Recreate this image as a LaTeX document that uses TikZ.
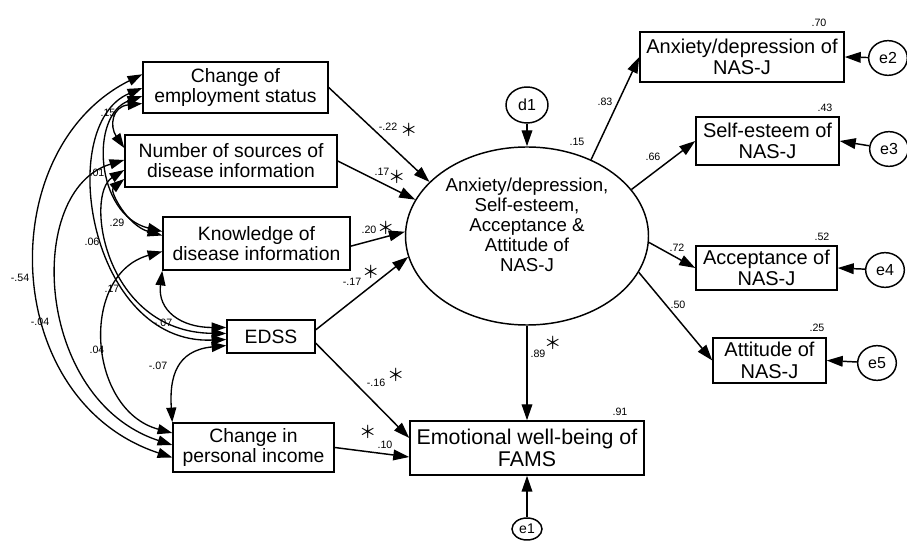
\documentclass[tikz,border=0pt]{standalone}
\usepackage{fontspec}
\setmainfont{Liberation Sans}
\newfontfamily\cjkfont{Noto Sans CJK JP}
\usetikzlibrary{arrows.meta,shapes.geometric,calc}
\begin{document}
\begin{tikzpicture}[x=0.75pt,y=-0.75pt,
  box/.style={draw,line width=1.1pt,inner sep=0pt,align=center,font=\fontsize{14.5}{15}\selectfont},
  rbox/.style={box,font=\fontsize{15}{16}\selectfont},
  circ/.style={draw,ellipse,line width=1.1pt,inner sep=0pt,font=\fontsize{12}{12}\selectfont},
  arr/.style={line width=1.1pt,-{Triangle[length=12pt,width=8pt]}},
  cov/.style={line width=1pt,{Triangle[length=11pt,width=7.5pt]}-{Triangle[length=11pt,width=7.5pt]}},
  coef/.style={inner sep=0pt,font=\fontsize{8}{8}\selectfont},
  sig/.style={inner sep=0pt,font=\cjkfont\fontsize{13}{13}\selectfont}]
\useasboundingbox (0,0) rectangle (907,541);
% exogenous boxes
\node[box,minimum width=138.75pt,minimum height=38.25pt] (A) at (235.5,87.5) {Change of\\employment status};
\node[box,minimum width=159pt,minimum height=39pt] (B) at (231,161) {Number of sources of\\disease information};
\node[box,minimum width=140.25pt,minimum height=39.75pt] (C) at (256.5,243.5) {Knowledge of\\disease information};
\node[box,minimum width=66pt,minimum height=24.75pt] (D) at (271,336.5) {EDSS};
\node[box,minimum width=120.75pt,minimum height=36.75pt] (E) at (253.5,447.5) {Change in\\personal income};
% outcome
\node[box,font=\fontsize{16}{16.5}\selectfont,minimum width=175.5pt,minimum height=40.5pt] (F) at (527,448) {Emotional well-being of\\FAMS};
% latent
\node[draw,ellipse,line width=1.1pt,minimum width=182.25pt,minimum height=133.5pt] (L) at (527,236) {};
\node[align=center,inner sep=0pt,font=\fontsize{14}{15}\selectfont] (Lt) at (527,225) {Anxiety/depression,\\Self-esteem,\\Acceptance \&\\Attitude of\\NAS-J};
% indicators
\node[rbox,minimum width=153pt,minimum height=37.5pt] (R1) at (742,57) {Anxiety/depression of\\NAS-J};
\node[rbox,minimum width=107.25pt,minimum height=36pt] (R2) at (767.5,141) {Self-esteem of\\NAS-J};
\node[rbox,minimum width=105.75pt,minimum height=33pt] (R3) at (766.5,268) {Acceptance of\\NAS-J};
\node[rbox,minimum width=84.75pt,minimum height=33.75pt] (R4) at (769.5,360.5) {Attitude of\\NAS-J};
% error terms
\node[circ,minimum width=31.5pt,minimum height=27pt] (d1) at (527,105) {d1};
\node[circ,minimum width=22.5pt,minimum height=16.5pt,font=\fontsize{10.5}{11}\selectfont] (e1) at (527,529) {e1};
\node[circ,minimum width=29pt,minimum height=26pt] (e2) at (888,58) {e2};
\node[circ,minimum width=29pt,minimum height=26pt] (e3) at (889,149) {e3};
\node[circ,minimum width=29pt,minimum height=26pt] (e4) at (885,270) {e4};
\node[circ,minimum width=29pt,minimum height=26pt] (e5) at (877,363) {e5};
% paths
\draw[arr] (A.east) -- (L.151.7);
\draw[arr] (B.east) -- (L.162);
\draw[arr] ([yshift=-2pt]C.east) -- (L.178.6);
\draw[arr] ([yshift=5pt]D.east) -- (L.190.6);
\draw[arr] ([yshift=-5pt]D.east) -- ([yshift=7.5pt]F.west);
\draw[arr] (E.east) -- ([yshift=-6.75pt]F.west);
\draw[arr] (L.south) -- (F.north);
\draw[arr] (e1) -- (F.south);
\draw[arr] (d1) -- (L.north);
\draw[arr] (L.50) -- (R1.west);
\draw[arr] (L.24.4) -- (R2.west);
\draw[arr] (L.-3.5) -- (R3.west);
\draw[arr] (L.-18) -- (R4.west);
\draw[arr] (e2) -- (R1.east);
\draw[arr] (e3) -- (R2.east);
\draw[arr] (e4) -- (R3.east);
\draw[arr] (e5) -- (R4.east);
% covariances
\draw[cov] ($(A.north west)+(0,13)$) .. controls +(-150,75) and +(-173,-57) .. ($(E.west)+(0,10)$);
\draw[cov] ($(B.west)+(0,-1)$) .. controls +(-100,30) and +(-138,-45) .. ($(E.west)+(0,-2.5)$);
\draw[cov] ($(C.west)+(0,8)$) .. controls +(-83,23) and +(-85,-23) .. ($(E.west)+(0,-14.5)$);
\draw[cov] ($(D.west)+(0,9)$) .. controls +(-50,5) and +(-3,-45) .. (E.north west);
\draw[cov] ($(A.west)+(0,16)$) .. controls +(-30,3) and +(-15,-22) .. ($(B.west)+(0,-13)$);
\draw[cov] ($(A.west)+(0,8.5)$) .. controls +(-53,19) and +(-67,-16.5) .. ($(C.west)+(0,-12)$);
\draw[cov] ($(B.west)+(0,18)$) .. controls +(-15,12) and +(-35,-10) .. ($(C.west)+(0,-8)$);
\draw[cov] ($(A.west)+(0,0.5)$) .. controls +(-88,37) and +(-137,5.5) .. ($(D.west)+(0,3)$);
\draw[cov] ($(B.west)+(0,9)$) .. controls +(-40,25) and +(-122,-1.5) .. ($(D.west)+(0,-3)$);
\draw[cov] (C.south west) .. controls +(-5,40) and +(-45,0) .. ($(D.west)+(0,-9)$);
% coefficient labels
\node[coef] (k1) at (819,23) {.70};
\node[coef] (k2) at (825,108) {.43};
\node[coef] (k3) at (822,237) {.52};
\node[coef] (k4) at (817,328) {.25};
\node[coef] (k5) at (605,102) {.83};
\node[coef] (k6) at (653,157) {.66};
\node[coef] (k7) at (677,248) {.72};
\node[coef] (k8) at (678,305) {.50};
\node[coef] (k9) at (577,142) {.15};
\node[coef] (k10) at (620,412) {.91};
\node[coef] (k11) at (538,354) {.89};
\node[sig] (s11) at (553,343) {＊};
\node[coef] (k12) at (376,383) {-.16};
\node[sig] (s12) at (396,375) {＊};
\node[sig] (s13) at (368,432) {＊};
\node[coef] (k13) at (385,445) {.10};
\node[coef] (k14) at (388,127) {-.22};
\node[sig] (s14) at (409,130) {＊};
\node[coef] (k15) at (382,172) {.17};
\node[sig] (s15) at (397,177) {＊};
\node[coef] (k16) at (369,230) {.20};
\node[sig] (s16) at (386,228) {＊};
\node[coef] (k17) at (352,282) {-.17};
\node[sig] (s17) at (371,272) {＊};
% covariance labels
\node[coef] (v1) at (108,113) {.15};
\node[coef] (v2) at (97,173) {.01};
\node[coef] (v3) at (117,223) {.29};
\node[coef] (v4) at (92,242) {.06};
\node[coef] (v5) at (20,278) {-.54};
\node[coef] (v6) at (40,322) {-.04};
\node[coef] (v7) at (112,289) {.17};
\node[coef] (v8) at (97,350) {.04};
\node[coef] (v9) at (163,323) {-.07};
\node[coef] (v10) at (158,366) {-.07};
\end{tikzpicture}
\end{document}
